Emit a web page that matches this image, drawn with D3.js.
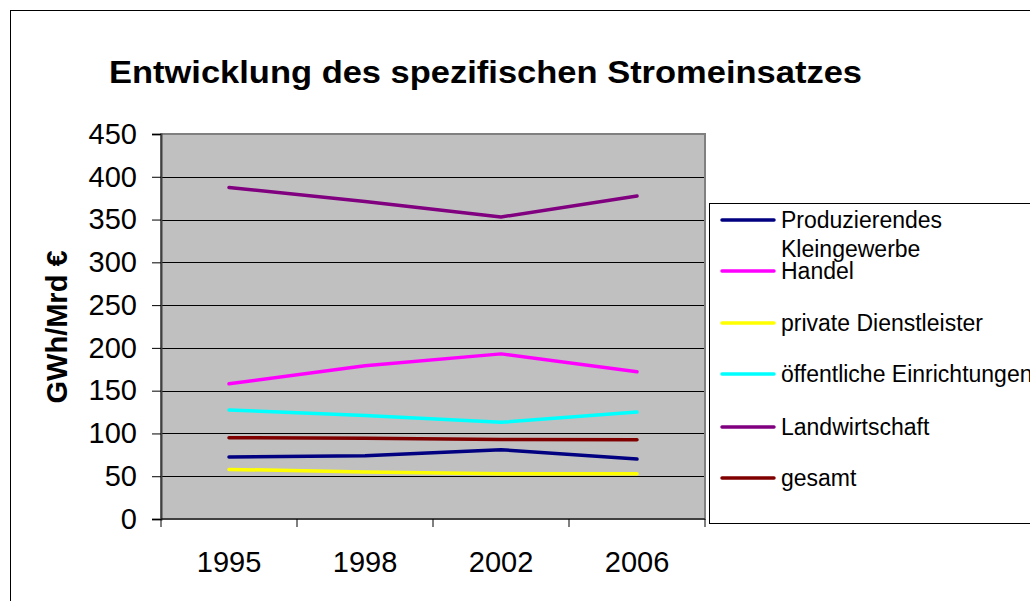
<!DOCTYPE html>
<html><head><meta charset="utf-8">
<script src="https://cdn.jsdelivr.net/npm/d3@7"></script>
<style>body{margin:0;background:#fff;}svg{display:block;font-family:"Liberation Sans",Arial,sans-serif;}</style>
</head><body>
<svg id="c" width="1030" height="601"></svg>
<script>
const years = ["1995","1998","2002","2006"];
const yTicks = [0,50,100,150,200,250,300,350,400,450];
const seriesNames = ["Produzierendes Kleingewerbe","Handel","private Dienstleister","öffentliche Einrichtungen","Landwirtschaft","gesamt"];
const seriesColors = ["#000080","#FF00FF","#FFFF00","#00FFFF","#800080","#800000"];
const produzierendes = [72.5, 74, 81, 70];
const handel = [158, 179, 193, 172];
const privateDL = [58, 55, 53, 53];
const oeffentliche = [127.5, 121, 113, 125];
const landwirtschaft = [387.5, 371, 353, 377.5];
const gesamt = [95, 94.5, 93, 92.5];
const seriesValues = [produzierendes, handel, privateDL, oeffentliche, landwirtschaft, gesamt];

const svg = d3.select("#c");
svg.append("rect").attr("x",10.5).attr("y",10.5).attr("width",1040).attr("height",620)
  .attr("fill","#fff").attr("stroke","#000").attr("stroke-width",1);

const L=161, R=705, T=134, B=519;
const x = d3.scaleBand().domain(years).range([L,R]);
const y = d3.scaleLinear().domain([0,450]).range([B,T]);

svg.append("rect").attr("x",L).attr("y",T).attr("width",R-L).attr("height",B-T).attr("fill","#C0C0C0");
svg.append("g").selectAll("line").data(yTicks.filter(d=>d>0)).join("line")
  .attr("x1",L).attr("x2",R).attr("y1",d=>Math.round(y(d))+0.5).attr("y2",d=>Math.round(y(d))+0.5)
  .attr("stroke","#000").attr("stroke-width",1);
svg.append("rect").attr("x",L).attr("y",T).attr("width",R-L).attr("height",B-T)
  .attr("fill","none").attr("stroke","#808080").attr("stroke-width",2);

const yAxis = d3.axisLeft(y).tickValues(yTicks).tickSize(9).tickPadding(15);
const gy = svg.append("g").attr("transform",`translate(${L},0)`).call(yAxis);
gy.select(".domain").attr("stroke","#404040").attr("stroke-width",2);
gy.selectAll(".tick line").attr("stroke","#000");
gy.selectAll("text").attr("font-size",29).attr("fill","#000").attr("font-family","Liberation Sans, Arial, sans-serif");

const xAxis = d3.axisBottom(x).tickSize(0).tickPadding(0);
const gx = svg.append("g").attr("transform",`translate(0,${B})`).call(xAxis);
gx.select(".domain").remove();
gx.selectAll(".tick line").remove();
gx.selectAll("text").attr("font-size",29).attr("fill","#000").attr("dy",null).attr("y",53)
  .attr("font-family","Liberation Sans, Arial, sans-serif");
const bounds = [L, ...years.map(d=>x(d)+x.bandwidth())];
svg.append("g").selectAll("line").data(bounds).join("line")
  .attr("x1",d=>d).attr("x2",d=>d).attr("y1",B).attr("y2",B+8).attr("stroke","#000");
svg.append("line").attr("x1",L).attr("x2",R).attr("y1",B).attr("y2",B).attr("stroke","#000");

const line = d3.line().x((d,i)=>x(years[i])+x.bandwidth()/2).y(d=>y(d));
svg.append("g").selectAll("path").data(seriesValues).join("path")
  .attr("d",d=>line(d)).attr("fill","none")
  .attr("stroke",(d,i)=>seriesColors[i]).attr("stroke-width",3.5)
  .attr("stroke-linecap","round").attr("stroke-linejoin","round");

svg.append("text").attr("x",109).attr("y",83)
  .attr("font-size",32).attr("font-weight","bold")
  .attr("textLength",753).attr("lengthAdjust","spacingAndGlyphs")
  .text("Entwicklung des spezifischen Stromeinsatzes");

svg.append("text").attr("transform","translate(67,327) rotate(-90)").attr("text-anchor","middle")
  .attr("font-size",29).attr("font-weight","bold").text("GWh/Mrd €");

const lg = svg.append("g");
lg.append("rect").attr("x",709.5).attr("y",203.5).attr("width",340).attr("height",320)
  .attr("fill","#fff").attr("stroke","#000");
const legY = [220, 271, 323, 374, 427, 478];
seriesNames.forEach((n,i)=>{
  lg.append("line").attr("x1",722).attr("x2",774).attr("y1",legY[i]).attr("y2",legY[i])
    .attr("stroke",seriesColors[i]).attr("stroke-width",3.5).attr("stroke-linecap","round");
  const t = lg.append("text").attr("x",781).attr("font-size",23).attr("fill","#000");
  if(i===0){
    t.append("tspan").attr("x",781).attr("y",legY[i]+8).text("Produzierendes");
    t.append("tspan").attr("x",781).attr("y",legY[i]+37).text("Kleingewerbe");
  } else {
    t.attr("y",legY[i]+8).text(n);
  }
});
</script>
</body></html>
